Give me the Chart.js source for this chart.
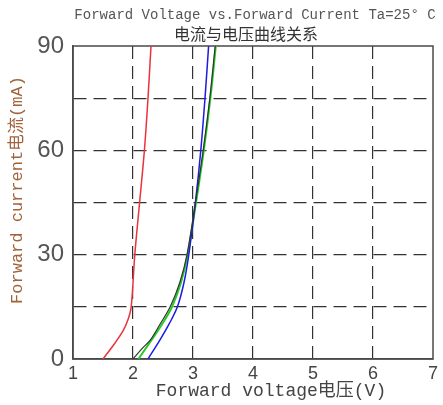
<!DOCTYPE html>
<html>
<head>
<meta charset="utf-8">
<script src="https://cdn.jsdelivr.net/npm/chart.js@4.4.0/dist/chart.umd.min.js"></script>
<style>
html,body{margin:0;padding:0;background:#fff;}
canvas{display:block;}
</style>
</head>
<body>
<canvas id="c" width="443" height="405"></canvas>
<script>
// Data (voltage in V, current in mA)
const redVoltage   = [1.50, 1.70, 1.84, 1.92, 1.97, 2.03, 2.11, 2.19, 2.25, 2.30];
const redCurrent   = [0,    4.6,  8.3,  11.5, 15,   30,   45,   60,   75,   90];
const blueVoltage  = [2.25, 2.45, 2.60, 2.74, 2.85, 2.93, 3.04, 3.13, 3.20, 3.26];
const blueCurrent  = [0,    5.5,  10,   15,   22,   30,   45,   60,   75,   90];
const greenVoltage = [2.09, 2.25, 2.37, 2.52, 2.65, 2.80, 2.91, 3.05, 3.18, 3.29, 3.38];
const greenCurrent = [0,    4,    7,    11,   15,   22,   30,   45,   60,   75,   90];
const blackVoltage = [2.00, 2.15, 2.29, 2.45, 2.62, 2.78, 2.90, 3.04, 3.17, 3.28, 3.37];
const blackCurrent = [0,    3,    5.5,  10,   15,   22,   30,   45,   60,   75,   90];
const xTicks = [1, 2, 3, 4, 5, 6, 7];
const yTicks = [0, 15, 30, 45, 60, 75, 90];
const yLabeled = [0, 30, 60, 90];

const titleLine1 = "Forward Voltage vs.Forward Current Ta=25° C";
const titleLine2 = "电流与电压曲线关系";
const xTitle = "Forward voltage电压(V)";
const yTitle = "Forward current电流(mA)";

function pts(xs, ys){ return xs.map((x,i)=>({x:x, y:ys[i]})); }

const textPlugin = {
  id: 'texts',
  beforeDatasetsDraw(chart){
    const {ctx, chartArea:a} = chart;
    ctx.save();
    ctx.strokeStyle = '#4a4a4a';
    ctx.lineWidth = 1.5;
    ctx.strokeRect(a.left, a.top, a.right - a.left, a.bottom - a.top);
    ctx.restore();
  },
  afterDraw(chart){
    const {ctx} = chart;
    ctx.save();
    ctx.textAlign = 'center';
    ctx.textBaseline = 'middle';
    ctx.fillStyle = '#555';
    ctx.font = '14px "Liberation Mono", "Noto Sans CJK SC", monospace';
    ctx.fillText(titleLine1, 255, 15);
    ctx.fillStyle = '#333';
    ctx.font = '16px "Noto Sans CJK SC", sans-serif';
    ctx.fillText(titleLine2, 246, 34);
    ctx.fillStyle = '#444';
    ctx.font = '18px "Liberation Mono", "Noto Sans CJK SC", monospace';
    ctx.fillText(xTitle, 271, 391);
    ctx.translate(17, 190);
    ctx.rotate(-Math.PI/2);
    ctx.fillStyle = '#a0643c';
    ctx.font = '17px "Liberation Mono", "Noto Sans CJK SC", monospace';
    ctx.fillText(yTitle, 0, 0);
    ctx.restore();
  }
};

new Chart(document.getElementById('c'), {
  type: 'scatter',
  data: {
    datasets: [
      {data: pts(blackVoltage, blackCurrent), borderColor: '#333', borderWidth: 1.2},
      {data: pts(redVoltage, redCurrent), borderColor: '#e8343c', borderWidth: 1.5},
      {data: pts(blueVoltage, blueCurrent), borderColor: '#1c1ce0', borderWidth: 1.5},
      {data: pts(greenVoltage, greenCurrent), borderColor: '#22cc22', borderWidth: 2}
    ].map(d => Object.assign(d, {showLine: true, pointRadius: 0, pointHoverRadius: 0, tension: 0.35, fill: false}))
  },
  options: {
    responsive: false,
    animation: false,
    events: [],
    layout: {padding: {top: 46, right: 10, left: 0, bottom: 0}},
    plugins: {legend: {display: false}, tooltip: {enabled: false}, title: {display: false}},
    scales: {
      x: {
        type: 'linear', min: xTicks[0], max: xTicks[xTicks.length-1],
        afterBuildTicks(s){ s.ticks = xTicks.map(v=>({value:v})); },
        afterFit(s){ s.height = 46; },
        ticks: {color: '#444', font: {size: 18, family: '"Liberation Sans", Arial, sans-serif'}, padding: 4, maxRotation: 0},
        grid: {drawTicks: false, color: c => (c.tick && (c.tick.value === 1 || c.tick.value === 7)) ? 'rgba(0,0,0,0)' : '#333', lineWidth: 1.2},
        border: {display: true, color: '#4a4a4a', width: 1.5, dash: [13, 7]}
      },
      y: {
        type: 'linear', min: yTicks[0], max: yTicks[yTicks.length-1],
        afterBuildTicks(s){ s.ticks = yTicks.map(v=>({value:v})); },
        afterFit(s){ s.width = 73; },
        ticks: {color: '#555', font: {size: 24, family: '"Liberation Sans", Arial, sans-serif'}, padding: 9,
          callback: v => yLabeled.includes(v) ? String(v) : ''},
        grid: {drawTicks: false, color: c => (c.tick && (c.tick.value === 0 || c.tick.value === 90)) ? 'rgba(0,0,0,0)' : '#333', lineWidth: 1.2},
        border: {display: true, color: '#4a4a4a', width: 1.5, dash: [13, 7]}
      }
    }
  },
  plugins: [textPlugin]
});
</script>
</body>
</html>
